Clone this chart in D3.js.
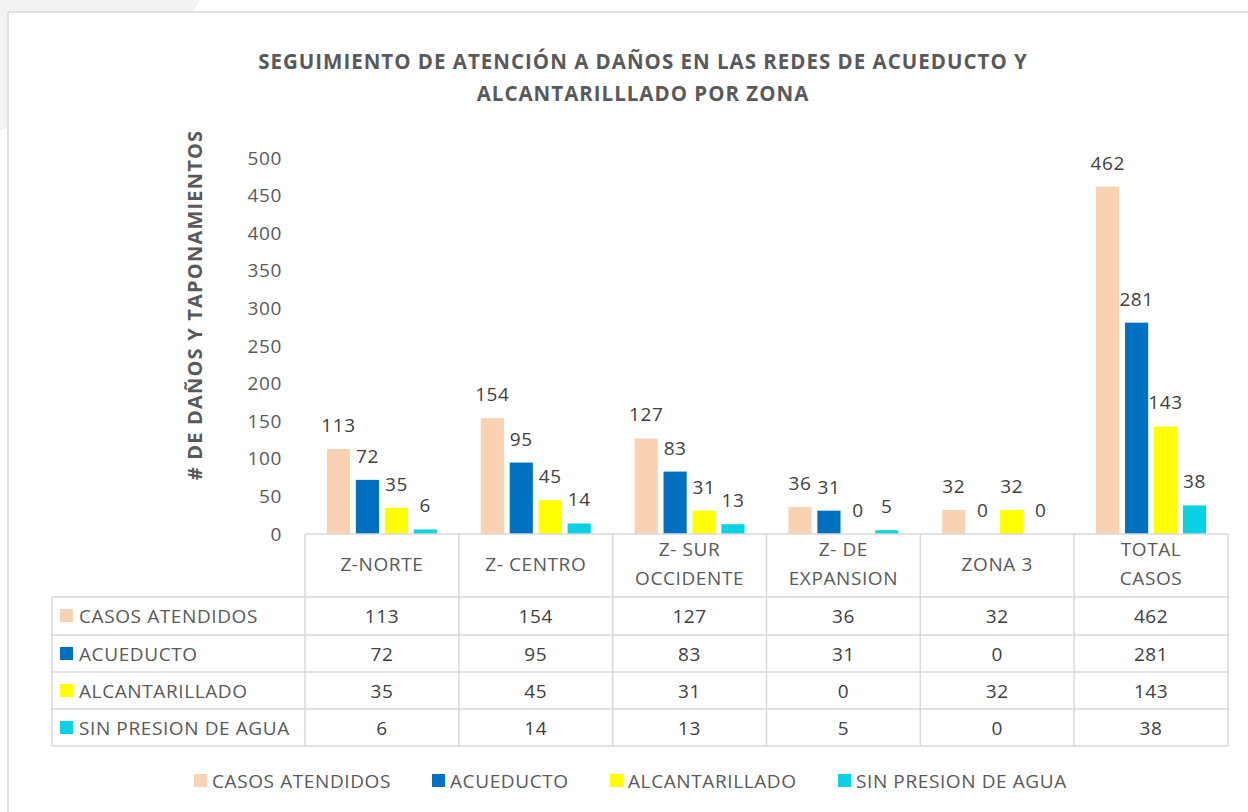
<!DOCTYPE html>
<meta charset="utf-8">
<style>
body { margin: 0; background: #fff; }
text { font-family: "Open Sans", Lato, sans-serif; letter-spacing: 0.6px; }
.grid line { stroke: #d9d9d9; stroke-width: 1.5; }
</style>
<svg width="1248" height="812"></svg>
<script src="https://d3js.org/d3.v7.min.js"></script>
<script>

var categories = ["Z-NORTE", "Z- CENTRO", "Z- SUR OCCIDENTE", "Z- DE EXPANSION", "ZONA 3", "TOTAL CASOS"];
var categoryLines = [["Z-NORTE"], ["Z- CENTRO"], ["Z- SUR", "OCCIDENTE"], ["Z- DE", "EXPANSION"], ["ZONA 3"], ["TOTAL", "CASOS"]];

var seriesNames = ["CASOS ATENDIDOS", "ACUEDUCTO", "ALCANTARILLADO", "SIN PRESION DE AGUA"];
var casosAtendidos = [113, 154, 127, 36, 32, 462];
var acueducto = [72, 95, 83, 31, 0, 281];
var alcantarillado = [35, 45, 31, 0, 32, 143];
var sinPresion = [6, 14, 13, 5, 0, 38];
var yTicks = [0, 50, 100, 150, 200, 250, 300, 350, 400, 450, 500];

var seriesValues = [casosAtendidos, acueducto, alcantarillado, sinPresion];
var colors = ["#f9d1b3", "#0070c0", "#ffff00", "#0ad2e4"];

var svg = d3.select("svg");

// faint slide background
svg.append("path")
    .attr("d", "M0,0 L200,0 Q150,90 0,130 Z")
    .attr("fill", "#f2f2f2");
svg.append("rect")
    .attr("x", 8).attr("y", 12)
    .attr("width", 1260).attr("height", 820)
    .attr("fill", "#fff")
    .attr("stroke", "#d9d9d9")
    .attr("stroke-width", 1.5);

var x0 = d3.scaleBand()
    .domain(categories)
    .range([305, 1228]);

var x1 = d3.scaleBand()
    .domain(seriesNames)
    .range([0, 110])
    .paddingInner(0.2);

var y = d3.scaleLinear()
    .domain([0, 500])
    .range([534, 158]);

// title
["SEGUIMIENTO DE ATENCIÓN A DAÑOS EN LAS REDES DE ACUEDUCTO  Y", "ALCANTARILLLADO POR ZONA"].forEach(function(t, k) {
  svg.append("text")
    .attr("x", 643).attr("y", 69 + k * 32)
    .attr("text-anchor", "middle")
    .attr("font-size", 20.5).attr("font-weight", "bold")
    .style("letter-spacing", "1px")
    .attr("fill", "#595959")
    .text(t);
});

// y axis title
svg.append("text")
    .attr("transform", "translate(202,305) rotate(-90)")
    .attr("text-anchor", "middle")
    .attr("font-size", 20).attr("font-weight", "bold")
    .style("letter-spacing", "1.2px")
    .attr("fill", "#595959")
    .text("# DE DAÑOS Y TAPONAMIENTOS");

// y axis
var yAxis = svg.append("g")
    .attr("transform", "translate(290,0)")
    .call(d3.axisLeft(y).tickValues(yTicks).tickSize(0).tickPadding(8));
yAxis.select(".domain").remove();
yAxis.selectAll("text")
    .attr("font-size", 19)
    .attr("fill", "#595959")
    .style("font-family", "'Open Sans', sans-serif");

// bars
var groups = svg.append("g").selectAll("g")
    .data(categories)
    .enter().append("g")
    .attr("transform", function(d) { return "translate(" + (x0(d) + (x0.bandwidth() - 110) / 2) + ",0)"; });

groups.selectAll("rect")
    .data(function(d, i) { return seriesNames.map(function(s, j) { return {s: s, v: seriesValues[j][i], j: j}; }); })
    .enter().append("rect")
    .attr("x", function(d) { return x1(d.s); })
    .attr("width", x1.bandwidth())
    .attr("y", function(d) { return y(d.v); })
    .attr("height", function(d) { return y(0) - y(d.v); })
    .attr("fill", function(d) { return colors[d.j]; });

groups.selectAll("text")
    .data(function(d, i) { return seriesNames.map(function(s, j) { return {s: s, v: seriesValues[j][i], j: j}; }); })
    .enter().append("text")
    .attr("x", function(d) { return x1(d.s) + x1.bandwidth() / 2; })
    .attr("y", function(d) { return y(d.v) - 17; })
    .attr("text-anchor", "middle")
    .attr("font-size", 19)
    .attr("fill", "#404040")
    .text(function(d) { return d.v; });

// data table
var rowTop = [597, 635, 672, 709];
var rowH = 37;
var grid = svg.append("g").attr("class", "grid");

grid.append("line").attr("x1", 305).attr("x2", 1228).attr("y1", 534).attr("y2", 534);
rowTop.concat([746]).forEach(function(t) {
  grid.append("line").attr("x1", 52).attr("x2", 1228).attr("y1", t).attr("y2", t);
});
grid.append("line").attr("x1", 52).attr("x2", 52).attr("y1", 597).attr("y2", 746);
categories.forEach(function(c) {
  grid.append("line").attr("x1", x0(c)).attr("x2", x0(c)).attr("y1", 534).attr("y2", 746);
});
grid.append("line").attr("x1", 1228).attr("x2", 1228).attr("y1", 534).attr("y2", 746);

// column headers
categories.forEach(function(c, i) {
  var lines = categoryLines[i];
  var cx = x0(c) + x0.bandwidth() / 2;
  lines.forEach(function(l, k) {
    svg.append("text")
      .attr("x", cx)
      .attr("y", lines.length === 1 ? 571 : 556 + k * 29)
      .attr("text-anchor", "middle")
      .attr("font-size", 19)
      .attr("fill", "#595959")
      .text(l);
  });
});

// rows
seriesNames.forEach(function(s, j) {
  var cy = rowTop[j] + rowH / 2;
  svg.append("rect")
    .attr("x", 60).attr("y", cy - 6.5)
    .attr("width", 13).attr("height", 13)
    .attr("fill", colors[j]);
  svg.append("text")
    .attr("x", 79).attr("y", cy + 7)
    .attr("font-size", 19)
    .attr("fill", "#595959")
    .text(s);
  categories.forEach(function(c, i) {
    svg.append("text")
      .attr("x", x0(c) + x0.bandwidth() / 2)
      .attr("y", cy + 7)
      .attr("text-anchor", "middle")
      .attr("font-size", 19)
      .attr("fill", "#404040")
      .text(seriesValues[j][i]);
  });
});

// legend
var legendX = [194, 432, 610, 838];
seriesNames.forEach(function(s, j) {
  svg.append("rect")
    .attr("x", legendX[j]).attr("y", 774)
    .attr("width", 13).attr("height", 13)
    .attr("fill", colors[j]);
  svg.append("text")
    .attr("x", legendX[j] + 18).attr("y", 788)
    .attr("font-size", 19)
    .attr("fill", "#595959")
    .text(s);
});

</script>
